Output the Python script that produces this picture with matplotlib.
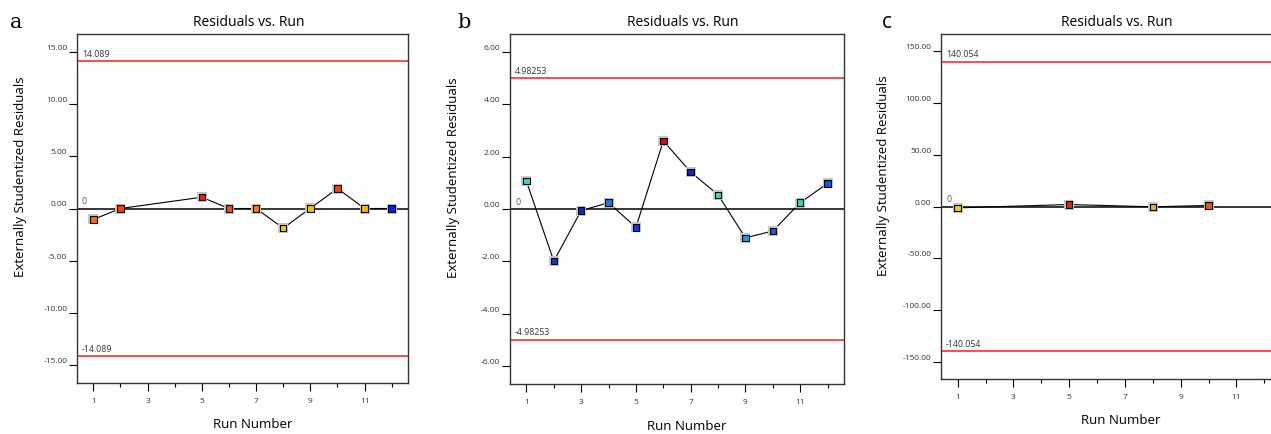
import matplotlib
matplotlib.use("Agg")
import matplotlib.pyplot as plt
from matplotlib.ticker import FixedLocator, FormatStrFormatter
import matplotlib.transforms as mtransforms

plt.rcParams['font.family'] = ['Open Sans', 'DejaVu Sans']

# panel a
runs_a = [1, 2, 5, 6, 7, 8, 9, 10, 11, 12]
resid_a = [-1.05, 0.0, 1.08, 0.0, 0.0, -1.88, 0.02, 1.91, 0.0, 0.0]
colors_a = ['#ff6a00', '#ff3c00', '#ff1a00', '#ff5000', '#ff7a00',
            '#ffcc00', '#e6c800', '#ff3c00', '#ffb400', '#0022ee']
limit_a = 14.089
yticks_a = [-15, -10, -5, 0, 5, 10, 15]
ylim_a = 16.7

# panel b
runs_b = [1, 2, 3, 4, 5, 6, 7, 8, 9, 10, 11, 12]
resid_b = [1.06, -1.99, -0.06, 0.24, -0.70, 2.60, 1.41, 0.54, -1.10, -0.84, 0.24, 0.98]
colors_b = ['#22e0d8', '#1038e0', '#0a2ac0', '#1a78f0', '#0a40e0', '#ee0000',
            '#0a28c8', '#30e0b8', '#1a9cf0', '#1a58f0', '#20e0a8', '#0a58f0']
limit_b = 4.98253
yticks_b = [-6, -4, -2, 0, 2, 4, 6]
ylim_b = 6.68

# panel c
runs_c = [1, 5, 8, 10]
resid_c = [-1.3, 1.9, -0.3, 1.0]
colors_c = ['#e6cc00', '#ee2200', '#e0bb00', '#ee5500']
limit_c = 140.054
yticks_c = [-150, -100, -50, 0, 50, 100, 150]
ylim_c = 166.7

W, H = 1271, 434
fig = plt.figure(figsize=(W / 100, H / 100), dpi=100)


def px_axes(left, top, right, bottom):
    return fig.add_axes([left / W, 1 - bottom / H, (right - left) / W, (bottom - top) / H])


def draw_panel(ax, runs, resid, colors, limit, yticks, ylim, limfmt):
    ax.set_xlim(0.4, 12.6)
    ax.set_ylim(-ylim, ylim)
    # limit lines and zero line
    ax.axhline(limit, color='#ff1a1a', lw=1.1, zorder=2)
    ax.axhline(-limit, color='#ff1a1a', lw=1.1, zorder=2)
    ax.axhline(0, color='black', lw=1.1, zorder=2)
    trans = mtransforms.blended_transform_factory(ax.transAxes, ax.transData)
    off = mtransforms.offset_copy(trans, fig=fig, x=0, y=1.5, units='points')
    ax.text(0.015, limit, limfmt % limit, transform=off, fontsize=6.3, color='#333333', va='bottom')
    ax.text(0.015, -limit, limfmt % -limit, transform=off, fontsize=6.3, color='#333333', va='bottom')
    ax.text(0.015, 0, '0', transform=off, fontsize=6.3, color='#555555', va='bottom')
    # residual points
    ax.plot(runs, resid, color='black', lw=0.8, zorder=3)
    ax.scatter(runs, resid, marker='s', s=42, color='#c8c8c8', linewidths=0, zorder=4)
    ax.scatter(runs, resid, marker='s', s=22, c=colors, edgecolors='black', linewidths=0.8, zorder=5)

    ax.yaxis.set_major_locator(FixedLocator(yticks))
    ax.yaxis.set_major_formatter(FormatStrFormatter('%.2f'))
    ax.xaxis.set_major_locator(FixedLocator([1, 3, 5, 7, 9, 11]))
    ax.xaxis.set_minor_locator(FixedLocator([2, 4, 6, 8, 10, 12]))
    ax.tick_params(axis='y', direction='out', length=6, width=0.8, labelsize=6,
                   labelcolor='#333333', pad=1)
    ax.tick_params(axis='x', which='major', direction='out', length=6, width=0.8,
                   labelsize=6, labelcolor='#333333', pad=5)
    ax.tick_params(axis='x', which='minor', direction='out', length=3, width=0.8)
    for lab in ax.get_yticklabels():
        lab.set_va('bottom')
    for sp in ax.spines.values():
        sp.set_color('#333333')
        sp.set_linewidth(1.0)

    ax.text(0.518, 1.012, 'Residuals vs. Run', transform=ax.transAxes,
            ha='center', va='bottom', fontsize=10)
    ax.set_ylabel('Externally Studentized Residuals', fontsize=9.5)
    ax.yaxis.set_label_coords(-0.15, 0.59)
    ax.set_xlabel('Run Number', fontsize=9.5)
    ax.xaxis.set_label_coords(0.53, -0.12)
    ax.xaxis.label.set_va('center')


ax_a = px_axes(77, 34, 408, 383)
draw_panel(ax_a, runs_a, resid_a, colors_a, limit_a, yticks_a, ylim_a, '%.3f')
ax_b = px_axes(510, 34, 844, 384)
draw_panel(ax_b, runs_b, resid_b, colors_b, limit_b, yticks_b, ylim_b, '%.5f')
ax_c = px_axes(941, 34, 1281, 379)
draw_panel(ax_c, runs_c, resid_c, colors_c, limit_c, yticks_c, ylim_c, '%.3f')

# panel letters
fig.text(10 / W, 1 - 28 / H, 'a', fontsize=15, family='DejaVu Serif', va='baseline')
fig.text(457 / W, 1 - 28 / H, 'b', fontsize=15, family='DejaVu Serif', va='baseline')
fig.text(882 / W, 1 - 28 / H, 'c', fontsize=15, va='baseline')

fig.savefig('out.png', dpi=100)
